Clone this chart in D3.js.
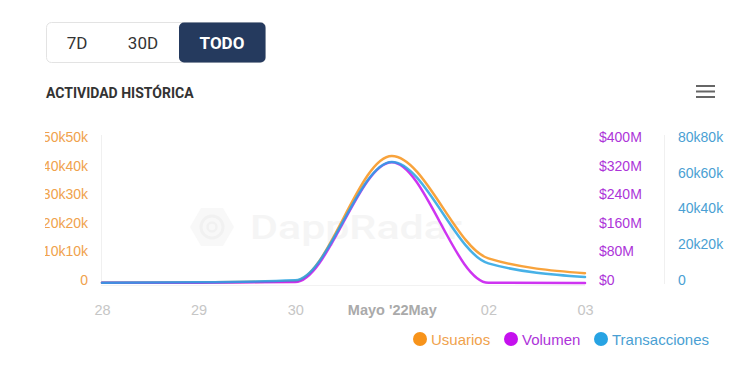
<!DOCTYPE html>
<html>
<head>
<meta charset="utf-8">
<script src="https://cdn.jsdelivr.net/npm/d3@7"></script>
<style>
  html, body { margin: 0; padding: 0; background: #fff; }
  svg { display: block; }
</style>
</head>
<body>
<svg id="chart" width="746" height="388"></svg>
<script>
// ---- data ----
const dates = ["2022-04-28", "2022-04-29", "2022-04-30", "2022-05-01", "2022-05-02", "2022-05-03"];
const usuarios = [100, 200, 700, 44400, 8600, 3400];
const volumen = [0.4e6, 0.8e6, 2.5e6, 338e6, 0.6e6, 0.3e6];
const transacciones = [200, 400, 1500, 67700, 11000, 3300];
const xTickLabels = ["28", "29", "30", "Mayo '22May", "02", "03"];
const leftTicks = [0, 10000, 20000, 30000, 40000, 50000];
const volTicks = [0, 80e6, 160e6, 240e6, 320e6, 400e6];
const txTicks = [0, 20000, 40000, 60000, 80000];
const buttons = ["7D", "30D", "TODO"];
const legendNames = ["Usuarios", "Volumen", "Transacciones"];

const svg = d3.select("#chart");
const parse = d3.utcParse("%Y-%m-%d");
const xDates = dates.map(parse);

const C = {
  orange: "#f7931a", purple: "#c511ee", blue: "#27a3e3",
  orangeText: "#f0a24c", purpleText: "#ad34d9", blueText: "#4a9fd3"
};

// clip for left labels (cut at the left edge as in the reference)
svg.append("defs").append("clipPath").attr("id", "leftClip")
  .append("rect").attr("x", 45).attr("y", 120).attr("width", 60).attr("height", 180);

// ---- button group ----
const bg = svg.append("g");
bg.append("rect").attr("x", 46.5).attr("y", 22.5).attr("width", 219).attr("height", 40)
  .attr("rx", 5).attr("fill", "#fff").attr("stroke", "#e3e3e3");
bg.append("rect").attr("x", 179).attr("y", 22.5).attr("width", 86.5).attr("height", 40)
  .attr("rx", 5).attr("fill", "#253a5e");
const btnX = [77, 143, 222];
buttons.forEach((b, i) => {
  bg.append("text").attr("x", btnX[i]).attr("y", 49)
    .attr("text-anchor", "middle")
    .attr("font-family", "Roboto, sans-serif")
    .attr("font-size", 17)
    .attr("font-weight", i === 2 ? 700 : 400)
    .attr("fill", i === 2 ? "#fff" : "#333")
    .text(b);
});

// ---- title ----
svg.append("text").attr("x", 46).attr("y", 98)
  .attr("font-family", "Roboto, sans-serif").attr("font-size", 14).attr("font-weight", 700)
  .attr("fill", "#333").text("ACTIVIDAD HISTÓRICA");

// ---- hamburger ----
[86, 91.5, 97].forEach(y => {
  svg.append("line").attr("x1", 696).attr("x2", 715).attr("y1", y).attr("y2", y)
    .attr("stroke", "#666").attr("stroke-width", 2);
});

// ---- watermark ----
const wm = svg.append("g");
const hex = d3.range(6).map(k => {
  const a = Math.PI / 3 * k;
  return [212 + 22 * Math.cos(a), 227 + 22 * Math.sin(a)];
});
wm.append("polygon").attr("points", hex.map(p => p.join(",")).join(" "))
  .attr("fill", "#f8f8f8");
wm.append("circle").attr("cx", 212).attr("cy", 227).attr("r", 11).attr("fill", "none")
  .attr("stroke", "#f1f1f1").attr("stroke-width", 3);
wm.append("circle").attr("cx", 212).attr("cy", 227).attr("r", 4.5).attr("fill", "none")
  .attr("stroke", "#f1f1f1").attr("stroke-width", 2.5);
wm.append("text").attr("x", 250).attr("y", 239)
  .attr("font-family", "Roboto, sans-serif").attr("font-size", 33).attr("font-weight", 500)
  .attr("textLength", 212).attr("lengthAdjust", "spacingAndGlyphs")
  .attr("fill", "#f5f5f5").text("DappRadar");

// ---- scales ----
const x = d3.scaleUtc().domain([xDates[0], xDates[xDates.length - 1]]).range([102, 585]);
const yU = d3.scaleLinear().domain([0, 50000]).range([283, 140]);
const yV = d3.scaleLinear().domain([0, 400e6]).range([283, 140]);
const yT = d3.scaleLinear().domain([0, 80000]).range([283, 140]);

// axis lines
svg.append("line").attr("x1", 101.5).attr("x2", 101.5).attr("y1", 135).attr("y2", 284)
  .attr("stroke", "#f0f0f0");
svg.append("line").attr("x1", 664.5).attr("x2", 664.5).attr("y1", 135).attr("y2", 284)
  .attr("stroke", "#f0f0f0");
svg.append("line").attr("x1", 101).attr("x2", 585).attr("y1", 285.5).attr("y2", 285.5)
  .attr("stroke", "#f2f2f2");

const fmtK = d => d === 0 ? "0" : `${d / 1000}k${d / 1000}k`;
const fmtM = d => d === 0 ? "$0" : `$${d / 1e6}M`;

function styleAxis(g, color) {
  g.select(".domain").remove();
  g.selectAll(".tick line").remove();
  g.selectAll("text").attr("fill", color)
    .attr("font-family", "'Liberation Sans', Arial, sans-serif").attr("font-size", 14);
}

svg.append("g").attr("clip-path", "url(#leftClip)")
  .append("g").attr("transform", "translate(88,-3)")
  .call(d3.axisLeft(yU).tickValues(leftTicks).tickFormat(fmtK).tickSize(0).tickPadding(0))
  .call(g => styleAxis(g, C.orangeText));

svg.append("g").attr("transform", "translate(599,-3)")
  .call(d3.axisRight(yV).tickValues(volTicks).tickFormat(fmtM).tickSize(0).tickPadding(0))
  .call(g => styleAxis(g, C.purpleText));

svg.append("g").attr("transform", "translate(678,-3)")
  .call(d3.axisRight(yT).tickValues(txTicks).tickFormat(fmtK).tickSize(0).tickPadding(0))
  .call(g => styleAxis(g, C.blueText));

// x axis
svg.append("g").attr("transform", "translate(0,305)")
  .call(d3.axisBottom(x).tickValues(xDates).tickFormat((d, i) => xTickLabels[i]).tickSize(0).tickPadding(0))
  .call(g => {
    g.select(".domain").remove();
    g.selectAll("text")
      .attr("font-family", "'Liberation Sans', Arial, sans-serif").attr("font-size", 14.5)
      .attr("fill", (d, i) => i === 3 ? "#aaa" : "#c6c6c6")
      .attr("font-weight", (d, i) => i === 3 ? 700 : 400);
  });

// ---- lines ----
function drawLine(vals, yScale, color) {
  const line = d3.line().x((d, i) => x(xDates[i])).y(d => yScale(d)).curve(d3.curveMonotoneX);
  svg.append("path").datum(vals).attr("d", line)
    .attr("fill", "none").attr("stroke", color).attr("stroke-width", 2.5)
    .attr("stroke-linejoin", "round").attr("stroke-linecap", "round").attr("opacity", 0.85);
}
drawLine(usuarios, yU, C.orange);
drawLine(volumen, yV, C.purple);
drawLine(transacciones, yT, C.blue);

// ---- legend ----
const legX = [420, 511, 601];
const legColors = [C.orange, C.purple, C.blue];
const legText = [C.orangeText, C.purpleText, C.blueText];
legendNames.forEach((n, i) => {
  svg.append("circle").attr("cx", legX[i]).attr("cy", 339).attr("r", 7).attr("fill", legColors[i]);
  svg.append("text").attr("x", legX[i] + 11).attr("y", 344.5)
    .attr("font-family", "'Liberation Sans', Arial, sans-serif").attr("font-size", 15)
    .attr("fill", legText[i]).text(n);
});
</script>
</body>
</html>
